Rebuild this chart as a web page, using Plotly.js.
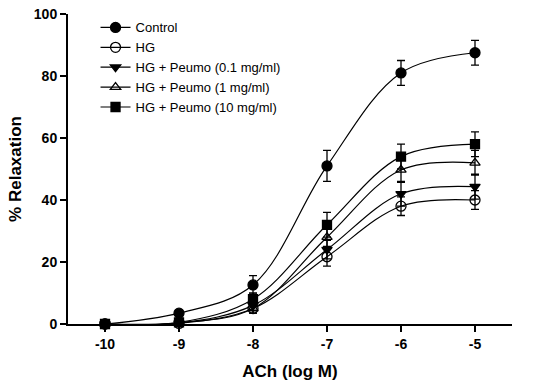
<!DOCTYPE html>
<html><head><meta charset="utf-8">
<script src="https://cdn.plot.ly/plotly-3.0.1.min.js"></script>
<style>html,body{margin:0;padding:0;background:#fff}#chart{width:550px;height:390px}</style>
</head><body><div id="chart"></div>
<script>
const logDose = [-10, -9, -8, -7, -6, -5];
const seriesNames = ["Control", "HG", "HG + Peumo (0.1 mg/ml)", "HG + Peumo (1 mg/ml)", "HG + Peumo (10 mg/ml)"];
const control = [0, 3.5, 12.6, 51, 81, 87.5];
const controlErr = [0.3, 0.5, 3, 5, 4, 4];
const hg = [0, 0.2, 5, 21.7, 38, 40];
const hgErr = [0.3, 0.3, 1.5, 3, 3, 3];
const peumo01 = [0, 0.3, 6, 24, 42, 44.3];
const peumo01Err = [0.3, 0.3, 1.5, 3, 4, 4];
const peumo1 = [0, 0.4, 5, 28, 49.7, 52];
const peumo1Err = [0.3, 0.3, 1.5, 3, 4, 4];
const peumo10 = [0, 0.5, 8, 32, 54, 58];
const peumo10Err = [0.3, 0.3, 2, 4, 4, 4];

const ys = [control, hg, peumo01, peumo1, peumo10];
const errs = [controlErr, hgErr, peumo01Err, peumo1Err, peumo10Err];
const symbols = ["circle", "circle-open", "triangle-down", "triangle-up-open", "square"];
const sizes = [10, 10, 9, 9, 9];

const traces = ys.map((y, i) => ({
  x: logDose, y: y, name: seriesNames[i], type: "scatter", mode: "lines+markers",
  line: {color: "#000", width: 1.2, shape: "spline", smoothing: 1},
  marker: {symbol: symbols[i], size: sizes[i], color: "#000", line: {color: "#000", width: 1.3}},
  error_y: {type: "data", array: errs[i], visible: true, color: "#000", thickness: 1.3, width: 4},
  cliponaxis: false
}));

const layout = {
  width: 550, height: 390,
  margin: {l: 68, r: 38, t: 14, b: 66},
  paper_bgcolor: "#fff", plot_bgcolor: "#fff",
  font: {family: "Liberation Sans, Arial, sans-serif", color: "#000"},
  showlegend: true,
  legend: {x: 0.062, y: 1.005, xanchor: "left", yanchor: "top", bgcolor: "rgba(0,0,0,0)",
    font: {size: 13, color: "#000"}, tracegroupgap: 0, itemwidth: 30},
  xaxis: {
    range: [-10.5, -4.5], tickvals: logDose, ticktext: ["-10", "-9", "-8", "-7", "-6", "-5"],
    showgrid: false, zeroline: false, showline: true, linecolor: "#000", linewidth: 2,
    ticks: "outside", ticklen: 6, tickwidth: 2, tickcolor: "#000",
    tickfont: {size: 14, weight: "bold", color: "#000"},
    title: {text: "ACh (log M)", font: {size: 17, weight: "bold", color: "#000"}, standoff: 14}
  },
  yaxis: {
    range: [0, 100], tickvals: [0, 20, 40, 60, 80, 100],
    showgrid: false, zeroline: false, showline: true, linecolor: "#000", linewidth: 2,
    ticks: "outside", ticklen: 6, tickwidth: 2, tickcolor: "#000",
    tickfont: {size: 14, weight: "bold", color: "#000"},
    title: {text: "% Relaxation", font: {size: 17, weight: "bold", color: "#000"}, standoff: 8}
  }
};
Plotly.newPlot("chart", traces, layout, {displayModeBar: false, staticPlot: true});
</script></body></html>
